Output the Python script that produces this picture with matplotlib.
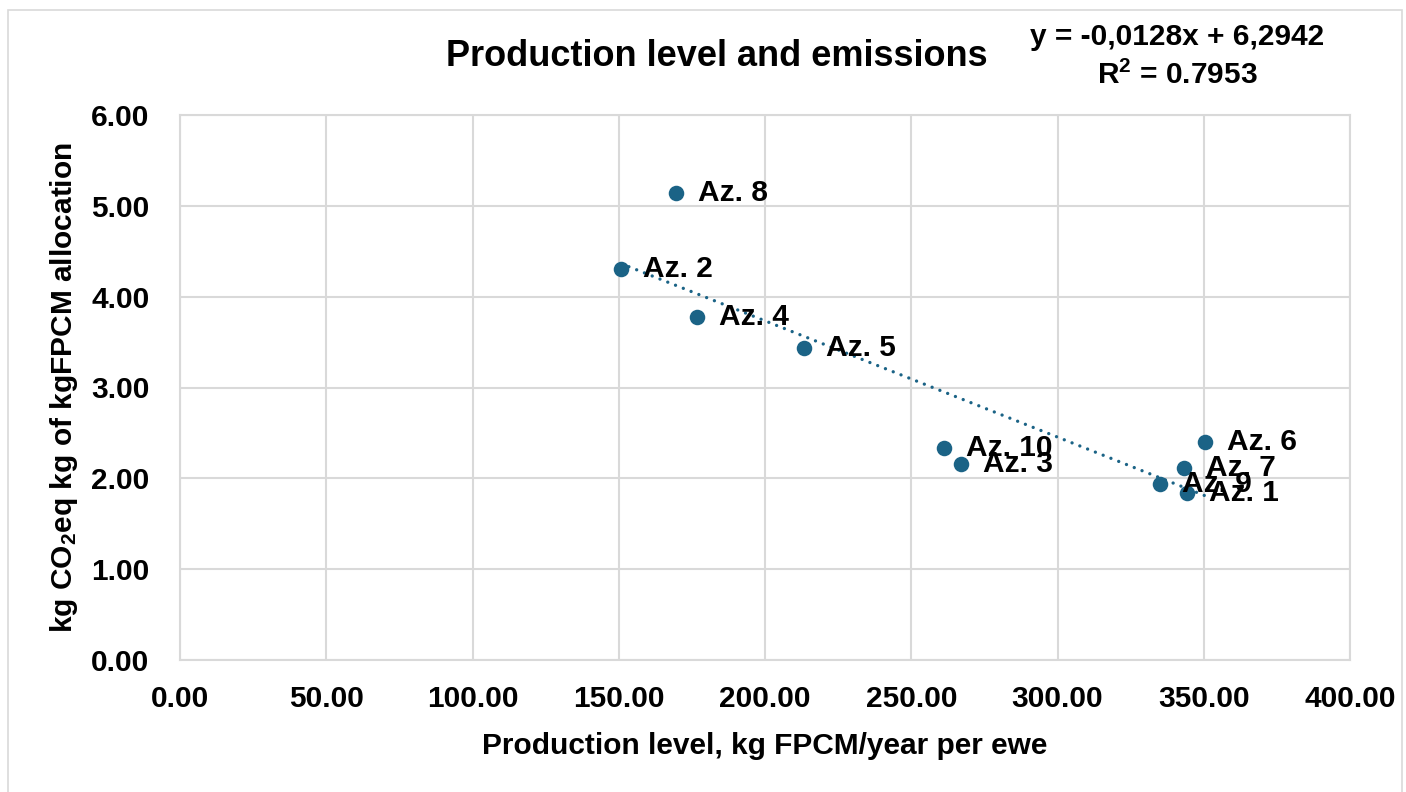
import matplotlib
matplotlib.use("Agg")
import matplotlib.pyplot as plt
from matplotlib.patches import Rectangle
import numpy as np

# ---- data ----
labels = ["Az. 1", "Az. 2", "Az. 3", "Az. 4", "Az. 5", "Az. 6", "Az. 7", "Az. 8", "Az. 9", "Az. 10"]
production = [344.3, 150.8, 267.0, 176.8, 213.3, 350.4, 343.2, 169.6, 335.0, 261.2]
emissions = [1.84, 4.30, 2.16, 3.78, 3.43, 2.40, 2.11, 5.14, 1.94, 2.33]
slope = -0.0128
intercept = 6.2942
r2_text = "0.7953"
x_ticks = [0, 50, 100, 150, 200, 250, 300, 350, 400]
y_ticks = [0, 1, 2, 3, 4, 5, 6]

FONT = "Liberation Sans"
plt.rcParams["font.family"] = [FONT, "DejaVu Sans"]
plt.rcParams["font.weight"] = "bold"
plt.rcParams["mathtext.fontset"] = "custom"
plt.rcParams["mathtext.rm"] = FONT + ":bold"
plt.rcParams["mathtext.it"] = FONT + ":bold"
plt.rcParams["mathtext.bf"] = FONT + ":bold"

COLOR = "#1B6386"
GRID = "#D9D9D9"
FS = 21.5

fig = plt.figure(figsize=(14.06, 7.92), dpi=100)
ax = fig.add_axes([180 / 1406, 1 - 660 / 792, 1170 / 1406, 545 / 792])

ax.set_xlim(0, 400)
ax.set_ylim(0, 6)
ax.set_xticks(x_ticks)
ax.set_yticks(y_ticks)
ax.set_xticklabels([f"{v:.2f}" for v in x_ticks])
ax.set_yticklabels([f"{v:.2f}" for v in y_ticks])
ax.tick_params(length=0, labelsize=FS, colors="black")
ax.tick_params(axis="y", pad=22)
ax.tick_params(axis="x", pad=18)
ax.grid(True, color=GRID, linewidth=1.5)
ax.set_axisbelow(True)
for s in ax.spines.values():
    s.set_color(GRID)
    s.set_linewidth(1.5)

ax.scatter(production, emissions, s=125, color=COLOR, zorder=3, linewidths=0)

xs = np.array([min(production), max(production)])
ax.plot(xs, slope * xs + intercept, color=COLOR, linewidth=2.4,
        linestyle=(0, (0.01, 2.5)), dash_capstyle="round", zorder=4)

for lab, x, y in zip(labels, production, emissions):
    ax.annotate(lab, (x, y), xytext=(16, 0), textcoords="offset points",
                va="center", ha="left", fontsize=FS, fontweight="bold", zorder=5)

ax.set_xlabel("Production level, kg FPCM/year per ewe", fontsize=FS,
              fontweight="bold", labelpad=14)
ax.set_ylabel(r"kg CO$_2$eq kg of kgFPCM allocation", fontsize=FS,
              fontweight="bold", labelpad=8)

fig.text(717 / 1406, 1 - 57 / 792, "Production level and emissions", fontsize=26,
         fontweight="bold", ha="center", va="center")
fig.text(1177 / 1406, 1 - 37 / 792, "y = -0,0128x + 6,2942", fontsize=FS,
         fontweight="bold", ha="center", va="center")
fig.text(1177 / 1406, 1 - 75 / 792, r"R$^2$ = " + r2_text, fontsize=FS,
         fontweight="bold", ha="center", va="center")

fig.patches.append(Rectangle((8 / 1406, -0.01), 1394 / 1406, 1 - 10 / 792 + 0.01,
                             transform=fig.transFigure, fill=False,
                             edgecolor=GRID, linewidth=1.2))

fig.savefig("out.png", dpi=100)
